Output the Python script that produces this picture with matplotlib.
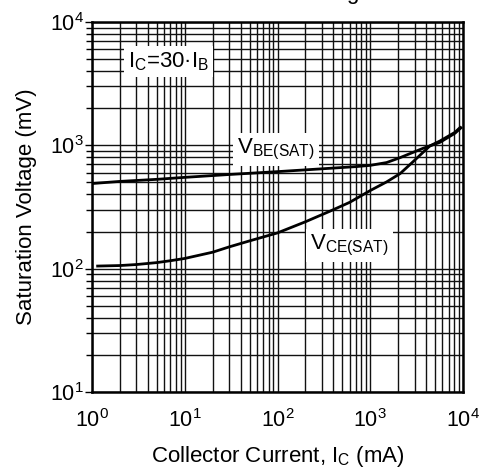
import matplotlib
matplotlib.use("Agg")
import matplotlib.pyplot as plt
from matplotlib.ticker import LogLocator, NullFormatter

plt.rcParams['font.family'] = ['Liberation Sans', 'DejaVu Sans']
plt.rcParams['mathtext.fontset'] = 'custom'
plt.rcParams['mathtext.rm'] = 'Liberation Sans'
plt.rcParams['mathtext.it'] = 'Liberation Sans'

# Data (mA, mV)
ic_vbe = [1, 2, 5, 10, 30, 100, 300, 700, 1000, 1500, 2100, 2800, 3700, 5650, 8200, 9500]
vbe = [490, 510, 530, 550, 580, 612, 645, 672, 688, 725, 795, 868, 945, 1058, 1254, 1385]
ic_vce = [1.15, 2, 3, 5, 7, 10, 20, 30, 50, 100, 200, 370, 600, 1000, 1500, 2100, 3000, 4400, 5650, 8200, 9300]
vce = [105, 106, 108, 112, 116, 121, 136, 150, 168, 195, 240, 293, 345, 430, 505, 590, 755, 990, 1085, 1275, 1395]

fig = plt.figure(figsize=(4.81, 4.68), dpi=100)
ax = fig.add_axes([92/481, 76/468, 371/481, 370/468])
ax.set_xscale('log')
ax.set_yscale('log')
ax.set_xlim(1, 1e4)
ax.set_ylim(10, 1e4)

ax.xaxis.set_major_locator(LogLocator(base=10, numticks=10))
ax.xaxis.set_minor_locator(LogLocator(base=10, subs=range(2, 10), numticks=20))
ax.yaxis.set_major_locator(LogLocator(base=10, numticks=10))
ax.yaxis.set_minor_locator(LogLocator(base=10, subs=range(2, 10), numticks=20))
ax.xaxis.set_minor_formatter(NullFormatter())
ax.yaxis.set_minor_formatter(NullFormatter())

ax.grid(True, which='both', color='#111111', linewidth=1.0)
for s in ax.spines.values():
    s.set_linewidth(1.8)

ax.tick_params(axis='x', which='both', length=0, labelsize=15.5, pad=12)
ax.tick_params(axis='y', which='major', length=5, width=1, direction='out', labelsize=15.5, pad=1)
ax.tick_params(axis='y', which='minor', length=4, width=1, direction='out')

ax.plot(ic_vbe, vbe, color='black', linewidth=2.0)
ax.plot(ic_vce, vce, color='black', linewidth=2.0)

bbox = dict(facecolor='white', edgecolor='none', pad=3)
ax.text(2.44, 4310, r'I$_\mathrm{C}$=30·I$_\mathrm{B}$', fontsize=16, ha='left', va='baseline', bbox=bbox)
ax.text(36.6, 860, r'V$_\mathrm{BE(SAT)}$', fontsize=16, ha='left', va='baseline', bbox=bbox)
ax.text(224, 143, r'V$_\mathrm{CE(SAT)}$', fontsize=16, ha='left', va='baseline', bbox=bbox)

ax.set_xlabel(r'Collector Current, I$_\mathrm{C}$ (mA)', fontsize=16, labelpad=9)
ax.set_ylabel('Saturation Voltage (mV)', fontsize=16, labelpad=9)

# cut-off title fragment at the top edge (as in the reference)
fig.text(352/481, 1 + 1/468, 'g', fontsize=16, ha='center', va='baseline')

fig.savefig('out.png', dpi=100)
